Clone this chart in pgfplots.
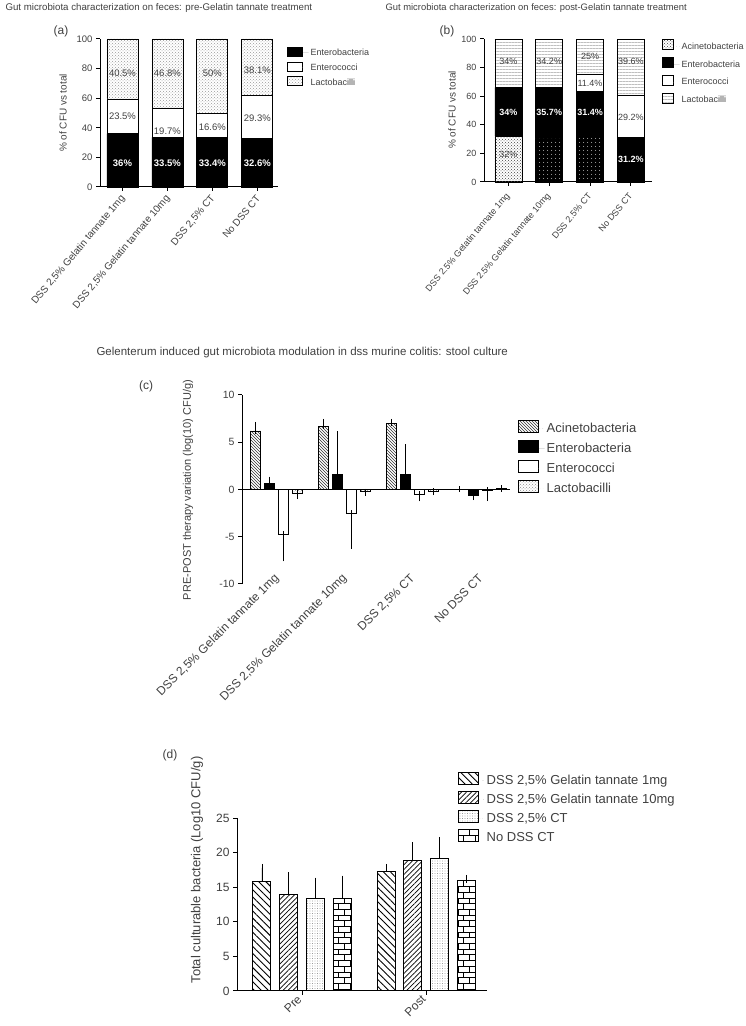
\documentclass[border=0pt]{standalone}
\usepackage{pgfplots}
\pgfplotsset{compat=1.18}
\usepackage{pgfplotstable}
\usepackage{fontspec}
\setmainfont{Liberation Sans}
\usetikzlibrary{patterns,patterns.meta}

\newcommand{\fs}[1]{\fontsize{#1}{#1}\selectfont}

\pgfplotsset{
  gp/.style={
    scale only axis, clip=false,
    axis x line*=bottom, axis y line*=left,
    axis line style={black, line width=1pt},
    tick align=outside, major tick length=4pt,
    tick style={black, line width=1pt},
    ticklabel style={text=black!75},
    /pgf/number format/assume math mode=true,
  },
  lg/.style={
    legend cell align=left,
    legend style={draw=none, fill=none, text=black!75, inner sep=0pt, anchor=north west},
  },
  lab/.style={draw=none, nodes near coords, point meta=explicit symbolic,
    every node near coord/.append style={anchor=center, inner sep=0pt, #1}},
  eb/.style={error bars/y dir=both, error bars/y explicit,
    error bars/error bar style={black, line width=0.8pt},
    error bars/error mark options={black, line width=0.8pt, mark size=#1}},
  ebd/.style={error bars/y dir=plus, error bars/y explicit,
    error bars/error bar style={black, line width=0.8pt},
    error bars/error mark options={black, line width=0.8pt, mark size=4pt}},
}

% (c) pre-post variation: value, error up, error down
\pgfplotstableread{
g acin acinp acinm ent entp entm eco ecop ecom lac lacp lacm
0 6.2 0.65 0 0.6 0.45 0 -4.7 0 2.6 -0.4 0 0.3
1 6.7 0.45 0 1.6 4.25 0 -2.5 0 3.45 -0.25 0 0.12
2 7.0 0.15 0 1.6 2.85 0 -0.5 0 0.45 -0.2 0 0.08
3 0 0 0 -0.6 0 0.2 -0.1 0 0.8 0.1 0.05 0
}\tabc

% (d) total culturable bacteria
\pgfplotstableread{
g s1 s1e s2 s2e s3 s3e s4 s4e
0 15.8 2.0 14.0 2.6 13.3 2.5 13.3 2.8
1 17.3 0.5 18.8 2.1 19.2 2.5 15.9 0.3
}\tabd

\begin{document}
\begin{tikzpicture}
\path (0pt,0pt) rectangle (745pt,1026pt);

% ---------- titles, panel letters, y labels
\begin{scope}[every node/.style={text=black!75}]
\node[anchor=west, font=\fs{9.7}] at (2pt,1018pt) {Gut microbiota characterization on feces: pre-Gelatin tannate treatment};
\node[anchor=west, font=\fs{9.4}] at (382pt,1018pt) {Gut microbiota characterization on feces: post-Gelatin tannate treatment};
\node[font=\fs{12}] at (61pt,995pt) {(a)};
\node[font=\fs{12}] at (447pt,995pt) {(b)};
\node[rotate=90, font=\fs{10}] at (63pt,913pt) {\% of CFU vs total};
\node[rotate=90, font=\fs{10}] at (452pt,916pt) {\% of CFU vs total};
\node[anchor=west, font=\fs{11.5}] at (93pt,673pt) {Gelenterum induced gut microbiota modulation in dss murine colitis: stool culture};
\node[font=\fs{12}] at (146pt,640pt) {(c)};
\node[rotate=90, font=\fs{11}] at (188pt,536pt) {PRE-POST therapy variation (log(10) CFU/g)};
\node[font=\fs{12}] at (170pt,271pt) {(d)};
\node[rotate=90, font=\fs{13}] at (197pt,156pt) {Total culturable bacteria (Log10 CFU/g)};
\end{scope}

% ---------- (a)
\begin{axis}[gp, ybar stacked, bar width=31pt,
  at={(100pt,839pt)}, anchor=south west, width=178pt, height=148pt,
  xmin=-0.5, xmax=3.46, ymin=0, ymax=100, ytick={0,20,...,100},
  xtick={0,1,2,3},
  xticklabels={{DSS 2,5\% Gelatin tannate 1mg},{DSS 2,5\% Gelatin tannate 10mg},{DSS 2,5\% CT},{No DSS CT}},
  xticklabel style={xshift=3pt, yshift=-3pt, rotate=50, anchor=east, font=\fs{10}},
  yticklabel style={font=\fs{9.5}}]
\addplot[draw=black, line width=0.8pt, fill=black] coordinates {(0,36) (1,33.5) (2,33.4) (3,32.6)};
\addplot[draw=black, line width=0.8pt, fill=white] coordinates {(0,23.5) (1,19.7) (2,16.6) (3,29.3)};
\addplot[draw=black, line width=0.8pt, pattern=crosshatch dots, pattern color=black!40] coordinates {(0,40.5) (1,46.8) (2,50) (3,38.1)};
\end{axis}
\begin{axis}[scale only axis, hide axis, clip=false, lg,
  at={(100pt,839pt)}, anchor=south west, width=178pt, height=148pt,
  xmin=-0.5, xmax=3.46, ymin=0, ymax=100,
  legend style={at={(1.05,0.95)}, font=\fs{9}, row sep=2.5pt},
  legend image code/.code={\draw[#1, draw=black, line width=0.8pt] (0pt,-3pt) rectangle (15pt,6pt); \path[draw=none] (0pt,0pt) -- (21pt,0pt);}]
\addlegendimage{fill=black}
\addlegendimage{fill=white}
\addlegendimage{pattern=crosshatch dots, pattern color=black!40}
\addplot[lab={text=white, font=\fs{9.5}\bfseries}] coordinates {(0,16) [36\%] (1,16) [33.5\%] (2,16) [33.4\%] (3,16) [32.6\%]};
\addplot[lab={text=black!75, font=\fs{9.5}}] coordinates {(0,47.5) [23.5\%] (1,38) [19.7\%] (2,40.5) [16.6\%] (3,46.5) [29.3\%]};
\addplot[lab={text=black!75, font=\fs{9.5}}] coordinates {(0,77) [40.5\%] (1,77) [46.8\%] (2,77) [50\%] (3,79) [38.1\%]};
\legend{Enterobacteria, Enterococci, Lactobacilli}
\end{axis}

% ---------- (b)
\begin{axis}[gp, ybar stacked, bar width=27pt,
  at={(484pt,844pt)}, anchor=south west, width=168pt, height=143pt,
  xmin=-0.6, xmax=3.52, ymin=0, ymax=100, ytick={0,20,...,100},
  xtick={0,1,2,3},
  xticklabels={{DSS 2.5\% Gelatin tannate 1mg},{DSS 2.5\% Gelatin tannate 10mg},{DSS 2.5\% CT},{No DSS CT}},
  xticklabel style={xshift=2pt, yshift=-6pt, rotate=50, anchor=east, font=\fs{9}},
  yticklabel style={font=\fs{9}}]
\addplot[draw=black, line width=0.8pt, pattern=crosshatch dots, pattern color=black!75] coordinates {(0,32) (1,0) (2,0) (3,0)};
\addplot[draw=black, line width=0.8pt, fill=black, postaction={pattern={Dots[distance=4pt, radius=0.6pt]}, pattern color=white}] coordinates {(0,0) (1,30.1) (2,32.2) (3,0)};
\addplot[draw=black, line width=0.8pt, fill=black] coordinates {(0,34) (1,35.7) (2,31.4) (3,31.2)};
\addplot[draw=black, line width=0.8pt, fill=white] coordinates {(0,0) (1,0) (2,11.4) (3,29.2)};
\addplot[draw=black, line width=0.8pt, pattern={Lines[angle=0, distance=3pt, line width=0.4pt]}, pattern color=black!25] coordinates {(0,34) (1,34.2) (2,25) (3,39.6)};
\end{axis}
\begin{axis}[scale only axis, hide axis, clip=false, lg,
  at={(484pt,844pt)}, anchor=south west, width=168pt, height=143pt,
  xmin=-0.6, xmax=3.52, ymin=0, ymax=100,
  legend style={at={(1.06,1.0)}, font=\fs{9}, row sep=4.5pt},
  legend image code/.code={\draw[#1, draw=black, line width=0.8pt] (0pt,-3pt) rectangle (11pt,7pt); \path[draw=none] (0pt,0pt) -- (17pt,0pt);}]
\addlegendimage{pattern=crosshatch dots, pattern color=black!75}
\addlegendimage{fill=black}
\addlegendimage{fill=white}
\addlegendimage{pattern={Lines[angle=0, distance=3pt, line width=0.4pt]}, pattern color=black!25}
\addplot[lab={text=white, font=\fs{9}\bfseries}] coordinates {(0,49) [34\%] (1,49) [35.7\%] (2,49) [31.4\%] (3,15.5) [31.2\%]};
\addplot[lab={text=black!75, font=\fs{9}}] coordinates {(0,84) [34\%] (1,84) [34.2\%] (2,87.5) [25\%] (3,84) [39.6\%] (2,69) [11.4\%] (3,45.5) [29.2\%] (0,19) [32\%]};
\legend{Acinetobacteria, Enterobacteria, Enterococci, Lactobacilli}
\end{axis}

% ---------- (c)
\begin{axis}[gp, ybar=4pt, bar width=10pt,
  at={(242pt,442pt)}, anchor=south west, width=268pt, height=189pt,
  xmin=-0.51, xmax=3.44, ymin=-10, ymax=10, ytick={-10,-5,0,5,10},
  x axis line style={draw=none}, xtick={0,1,2,3}, xtick style={draw=none},
  xticklabels={{DSS 2,5\% Gelatin tannate 1mg},{DSS 2,5\% Gelatin tannate 10mg},{DSS 2,5\% CT},{No DSS CT}},
  xticklabel style={xshift=3pt, yshift=14pt, rotate=45, anchor=east, font=\fs{12}},
  yticklabel style={font=\fs{10.5}},
  extra y ticks={0}, extra y tick labels={},
  extra y tick style={grid=major, major grid style={black, line width=1pt}},
  lg, legend style={at={(1.03,0.868)}, font=\fs{13}, row sep=4pt},
  legend image code/.code={\draw[#1, draw=black, line width=1pt] (0pt,-4pt) rectangle (20pt,8pt); \path[draw=none] (0pt,0pt) -- (26pt,0pt);}]
\addplot[draw=black, line width=0.8pt, pattern=north west lines, pattern color=black!80, eb=3pt]
  table[x=g, y=acin, y error plus=acinp, y error minus=acinm] \tabc;
\addlegendentry{Acinetobacteria}
\addplot[draw=black, line width=0.8pt, fill=black, eb=3pt]
  table[x=g, y=ent, y error plus=entp, y error minus=entm] \tabc;
\addlegendentry{Enterobacteria}
\addplot[draw=black, line width=0.8pt, fill=white, eb=3pt]
  table[x=g, y=eco, y error plus=ecop, y error minus=ecom] \tabc;
\addlegendentry{Enterococci}
\addplot[draw=black, line width=0.8pt, pattern=crosshatch dots, pattern color=black!45, eb=3pt]
  table[x=g, y=lac, y error plus=lacp, y error minus=lacm] \tabc;
\addlegendentry{Lactobacilli}
\end{axis}

% ---------- (d)
\begin{axis}[gp, ybar=8.7pt, bar width=18pt,
  at={(237pt,35pt)}, anchor=south west, width=250pt, height=173pt,
  xmin=-0.524, xmax=1.49, ymin=0, ymax=25, ytick={0,5,...,25},
  xtick={0,1}, xticklabels={Pre,Post},
  xticklabel style={rotate=45, anchor=east, font=\fs{12}},
  yticklabel style={font=\fs{12}},
  lg, legend style={at={(0.884,1.266)}, font=\fs{13}, row sep=3pt},
  legend image code/.code={\draw[#1, draw=black, line width=1pt] (0pt,-4pt) rectangle (20pt,8pt); \path[draw=none] (0pt,0pt) -- (26pt,0pt);}]
\addplot[draw=black, line width=1pt, pattern={Lines[angle=-45, distance=5pt, line width=0.9pt]}, ebd]
  table[x=g, y=s1, y error=s1e] \tabd;
\addlegendentry{DSS 2,5\% Gelatin tannate 1mg}
\addplot[draw=black, line width=1pt, pattern={Lines[angle=45, distance=3.5pt, line width=0.7pt]}, ebd]
  table[x=g, y=s2, y error=s2e] \tabd;
\addlegendentry{DSS 2,5\% Gelatin tannate 10mg}
\addplot[draw=black, line width=1pt, pattern={Dots[distance=2.5pt, radius=0.45pt]}, pattern color=black!60, ebd]
  table[x=g, y=s3, y error=s3e] \tabd;
\addlegendentry{DSS 2,5\% CT}
\addplot[draw=black, line width=1pt, pattern=bricks, ebd]
  table[x=g, y=s4, y error=s4e] \tabd;
\addlegendentry{No DSS CT}
\end{axis}
\end{tikzpicture}
\end{document}
